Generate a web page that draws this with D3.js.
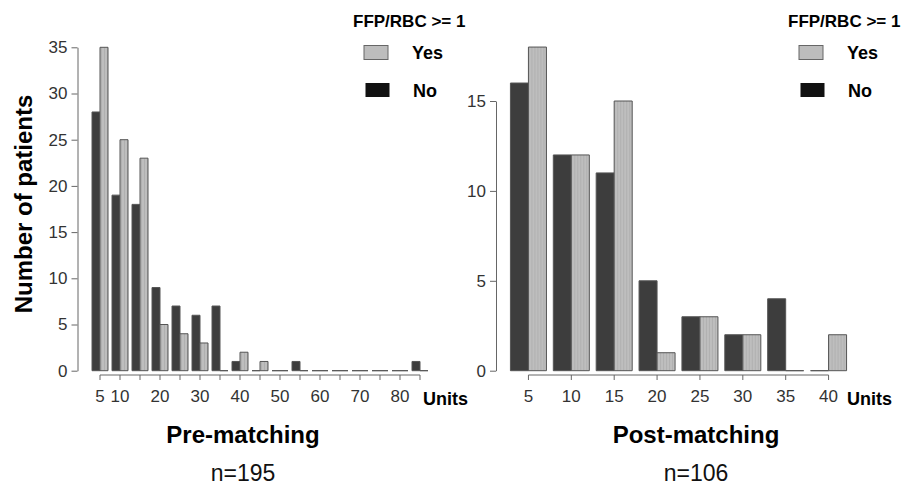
<!DOCTYPE html>
<html lang="en">
<head>
    <meta charset="UTF-8">
    <title>FFP/RBC units histogram</title>
    <script src="https://d3js.org/d3.v7.min.js"></script>
    <style>
        body { margin: 0; background: #fff; }
        svg text { font-family: "Liberation Sans", Arial, sans-serif; }
        .tick text { fill: #333; font-size: 17px; }
        .tick line, .domain { stroke: #666; }
    </style>
</head>
<body>
<div id="chart"></div>
<script>
    // Pre-matching: units received, counts by FFP/RBC >= 1
    const preUnits = [5, 10, 15, 20, 25, 30, 35, 40, 45, 50, 55, 60, 65, 70, 75, 80, 85];
    const preTickLabels = ["5", "10", "", "20", "", "30", "", "40", "", "50", "", "60", "", "70", "", "80", ""];
    const preNo  = [28, 19, 18, 9, 7, 6, 7, 1, 0, 0, 1, 0, 0, 0, 0, 0, 1];
    const preYes = [35, 25, 23, 5, 4, 3, 0, 2, 1, 0, 0, 0, 0, 0, 0, 0, 0];

    // Post-matching
    const postUnits = [5, 10, 15, 20, 25, 30, 35, 40];
    const postTickLabels = ["5", "10", "15", "20", "25", "30", "35", "40"];
    const postNo  = [16, 12, 11, 5, 3, 2, 4, 0];
    const postYes = [18, 12, 15, 1, 3, 2, 0, 2];

    const yTicksPre = [0, 5, 10, 15, 20, 25, 30, 35];
    const yTicksPost = [0, 5, 10, 15];
    const seriesNames = ["No", "Yes"];

    const width = 915, height = 486;
    const svg = d3.select("#chart").append("svg")
        .attr("width", width)
        .attr("height", height);

    // light hatched fill used for the "Yes" bars
    const pat = svg.append("defs").append("pattern")
        .attr("id", "hatch")
        .attr("patternUnits", "userSpaceOnUse")
        .attr("width", 3).attr("height", 10);
    pat.append("rect").attr("width", 3).attr("height", 10).attr("fill", "#bebebe");
    pat.append("line").attr("x1", 0.5).attr("x2", 0.5).attr("y1", 0).attr("y2", 10)
        .attr("stroke", "#b0b0b0").attr("stroke-width", 1);

    const colors = { No: "#3d3d3d", Yes: "url(#hatch)" };

    function drawPanel(cfg) {
        const g = svg.append("g");

        const x = d3.scaleBand()
            .domain(cfg.units)
            .range(cfg.xRange)
            .paddingInner(cfg.pad)
            .paddingOuter(cfg.pad / 2);
        const xs = d3.scaleBand().domain(seriesNames).range([0, x.bandwidth()]);
        const y = d3.scaleLinear().domain([0, d3.max(cfg.yTicks)]).range([370.7, cfg.yTop]);

        const rows = cfg.units.map((u, i) => ({ unit: u, No: cfg.no[i], Yes: cfg.yes[i] }));

        // bars drawn as paths so zero counts still show as a flat line
        g.selectAll("g.grp")
            .data(rows)
            .join("g")
            .attr("class", "grp")
            .attr("transform", d => `translate(${x(d.unit)},0)`)
            .selectAll("path")
            .data(d => seriesNames.map(s => ({ key: s, value: d[s] })))
            .join("path")
            .attr("d", d => {
                const x0 = xs(d.key), x1 = x0 + xs.bandwidth();
                return `M${x0},${y(0)}V${y(d.value)}H${x1}V${y(0)}Z`;
            })
            .attr("fill", d => colors[d.key])
            .attr("stroke", "#555")
            .attr("stroke-width", 1);

        // y axis
        g.append("g")
            .attr("transform", `translate(${cfg.yAxisX},0)`)
            .call(d3.axisLeft(y).tickValues(cfg.yTicks).tickSize(6).tickSizeOuter(0).tickPadding(4));

        // x axis: line from first to last group centre
        const xa = g.append("g").attr("transform", "translate(0,375)");
        const centers = cfg.units.map(u => x(u) + x.bandwidth() / 2);
        xa.append("line")
            .attr("x1", centers[0]).attr("x2", centers[centers.length - 1])
            .attr("stroke", "#666");
        xa.selectAll("line.tk")
            .data(centers)
            .join("line")
            .attr("class", "tk")
            .attr("x1", d => d).attr("x2", d => d)
            .attr("y1", 0).attr("y2", 5)
            .attr("stroke", "#666");
        xa.selectAll("text")
            .data(cfg.tickLabels)
            .join("text")
            .attr("x", (d, i) => centers[i])
            .attr("y", 27)
            .attr("text-anchor", "middle")
            .attr("fill", "#333")
            .style("font-size", "17px")
            .text(d => d);

        g.append("text")
            .attr("x", cfg.unitsX).attr("y", 405)
            .style("font-size", "18px").style("font-weight", "bold")
            .text("Units");

        // legend
        const lg = g.append("g").attr("transform", `translate(${cfg.legendX},0)`);
        lg.append("text")
            .attr("x", 0).attr("y", 27)
            .style("font-size", "17px").style("font-weight", "bold")
            .text("FFP/RBC >= 1");
        lg.append("rect")
            .attr("x", 11).attr("y", 45.5).attr("width", 24).attr("height", 14)
            .attr("fill", "#bdbdbd").attr("stroke", "#666");
        lg.append("rect")
            .attr("x", 12.5).attr("y", 83).attr("width", 24).attr("height", 14)
            .attr("fill", "#111");
        lg.append("text").attr("x", 59).attr("y", 59)
            .style("font-size", "18px").style("font-weight", "bold").text("Yes");
        lg.append("text").attr("x", 60).attr("y", 96.5)
            .style("font-size", "18px").style("font-weight", "bold").text("No");

        // titles
        g.append("text")
            .attr("x", cfg.titleX).attr("y", 443)
            .attr("text-anchor", "middle")
            .style("font-size", "24px").style("font-weight", "bold")
            .text(cfg.title);
        g.append("text")
            .attr("x", cfg.titleX).attr("y", 481)
            .attr("text-anchor", "middle")
            .style("font-size", "23px")
            .attr("fill", "#111")
            .text(cfg.n);
    }

    drawPanel({
        units: preUnits, no: preNo, yes: preYes, tickLabels: preTickLabels,
        yTicks: yTicksPre, yTop: 47.3, xRange: [90, 430], pad: 0.2,
        yAxisX: 77.5, unitsX: 423, legendX: 353,
        title: "Pre-matching", n: "n=195", titleX: 243
    });

    drawPanel({
        units: postUnits, no: postNo, yes: postYes, tickLabels: postTickLabels,
        yTicks: yTicksPost, yTop: 101, xRange: [507, 850], pad: 0.16,
        yAxisX: 496, unitsX: 847, legendX: 788,
        title: "Post-matching", n: "n=106", titleX: 696
    });

    // shared y label
    svg.append("text")
        .attr("transform", "translate(32,204) rotate(-90)")
        .attr("text-anchor", "middle")
        .style("font-size", "24px").style("font-weight", "bold")
        .text("Number of patients");
</script>
</body>
</html>
